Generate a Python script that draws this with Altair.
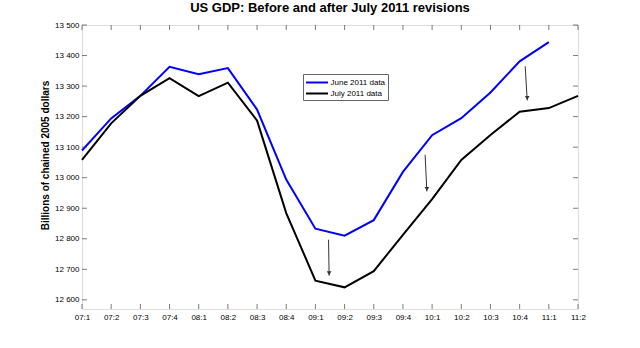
import altair as alt
import pandas as pd

quarters = ["07:1", "07:2", "07:3", "07:4", "08:1", "08:2", "08:3", "08:4",
            "09:1", "09:2", "09:3", "09:4", "10:1", "10:2", "10:3", "10:4",
            "11:1", "11:2"]
june = [13089, 13194, 13268, 13363, 13339, 13359, 13223, 12994, 12833,
        12810, 12861, 13019, 13139, 13195, 13279, 13381, 13444, None]
july = [13058, 13178, 13268, 13326, 13267, 13311, 13187, 12884, 12663,
        12641, 12694, 12813, 12930, 13058, 13140, 13216, 13228, 13268]
series_names = ["June 2011 data", "July 2011 data"]
series_colors = ["#0000ff", "#000000"]
y_ticks = [12600, 12700, 12800, 12900, 13000, 13100, 13200, 13300, 13400, 13500]
y_domain = [12570, 13500]
# arrows: x position (quarter index), start and end value
arrow_x = [8.45, 11.76, 15.19]
arrow_x_end = [8.47, 11.82, 15.26]
arrow_y_start = [12797, 13075, 13365]
arrow_y_end = [12679, 12955, 13253]

FONT = "Liberation Sans"
W, H = 496, 284

rows = []
for i, q in enumerate(quarters):
    if june[i] is not None:
        rows.append({"idx": i, "value": june[i], "series": series_names[0]})
    if july[i] is not None:
        rows.append({"idx": i, "value": july[i], "series": series_names[1]})
df = pd.DataFrame(rows)

label_expr = "[" + ",".join("'%s'" % q for q in quarters) + "][datum.value]"

xscale = alt.Scale(domain=[0, len(quarters) - 1], nice=False, zero=False)
yscale = alt.Scale(domain=y_domain, nice=False, zero=False)

xaxis = alt.Axis(values=list(range(len(quarters))), labelExpr=label_expr,
                 title=None, ticks=False, domain=False, grid=False,
                 labelFont=FONT, labelFontSize=8, labelColor="#000",
                 labelPadding=4, labelFlush=False, labelOverlap=False)
yaxis = alt.Axis(values=y_ticks,
                 labelExpr="replace(format(datum.value, ','), ',', ' ')",
                 title="Billions of chained 2005 dollars",
                 titleFont=FONT, titleFontSize=10, titleFontWeight="bold",
                 titleColor="#000", titlePadding=4, titleY=130,
                 ticks=False, domain=False, grid=False,
                 labelFont=FONT, labelFontSize=8, labelColor="#000",
                 labelPadding=3, labelOverlap=False, labelFlush=False)

lines = alt.Chart(df).mark_line(strokeWidth=2).encode(
    x=alt.X("idx:Q", scale=xscale, axis=xaxis),
    y=alt.Y("value:Q", scale=yscale, axis=yaxis),
    color=alt.Color("series:N",
                    scale=alt.Scale(domain=series_names, range=series_colors),
                    legend=alt.Legend(orient="none", legendX=221, legendY=49,
                                      title=None, symbolType="M-2,0L2,0",
                                      symbolSize=121, symbolStrokeWidth=2,
                                      symbolOffset=5.5,
                                      labelFont=FONT, labelFontSize=8,
                                      labelColor="#000", strokeColor="#666",
                                      fillColor="white", padding=2,
                                      rowPadding=0, labelOffset=7)),
)

xt = pd.DataFrame({"idx": list(range(len(quarters)))})
yt = pd.DataFrame({"value": y_ticks})
tick_color = "#444"

bottom_ticks = alt.Chart(xt).mark_tick(orient="vertical", size=5, thickness=1,
                                       color=tick_color, yOffset=-2.5).encode(
    x=alt.X("idx:Q", scale=xscale, axis=xaxis),
    y=alt.datum(y_domain[0], scale=yscale, axis=yaxis))
top_ticks = alt.Chart(xt).mark_tick(orient="vertical", size=5, thickness=1,
                                    color=tick_color, yOffset=2.5).encode(
    x=alt.X("idx:Q", scale=xscale, axis=xaxis),
    y=alt.datum(y_domain[1], scale=yscale, axis=yaxis))
left_ticks = alt.Chart(yt).mark_tick(orient="horizontal", size=5, thickness=1,
                                     color=tick_color, xOffset=2.5).encode(
    y=alt.Y("value:Q", scale=yscale, axis=yaxis),
    x=alt.datum(0, scale=xscale, axis=xaxis))
right_ticks = alt.Chart(yt).mark_tick(orient="horizontal", size=5, thickness=1,
                                      color=tick_color, xOffset=-2.5).encode(
    y=alt.Y("value:Q", scale=yscale, axis=yaxis),
    x=alt.datum(len(quarters) - 1, scale=xscale, axis=xaxis))

adf = pd.DataFrame({"x": arrow_x, "x2": arrow_x_end,
                    "y": arrow_y_start, "y2": arrow_y_end})
shafts = alt.Chart(adf).mark_rule(color="#333", strokeWidth=1).encode(
    x=alt.X("x:Q", scale=xscale, axis=xaxis), x2="x2:Q",
    y=alt.Y("y:Q", scale=yscale, axis=yaxis), y2="y2:Q")
heads = alt.Chart(adf).mark_point(shape="triangle-down", filled=True, size=22,
                                  color="#333", opacity=1, yOffset=-2.5).encode(
    x=alt.X("x2:Q", scale=xscale, axis=xaxis),
    y=alt.Y("y2:Q", scale=yscale, axis=yaxis))

chart = alt.layer(lines, bottom_ticks, top_ticks, left_ticks, right_ticks,
                  shafts, heads).properties(
    width=W, height=H,
    title=alt.TitleParams("US GDP: Before and after July 2011 revisions",
                          font=FONT, fontSize=13, fontWeight="bold",
                          color="#000", anchor="middle", offset=6),
    autosize=alt.AutoSizeParams(type="none"),
    padding={"left": 82, "top": 25, "right": 640 - 82 - W, "bottom": 348 - 25 - H},
).configure_view(stroke="#444", strokeWidth=1).configure_axis(
    labelOverlap=False, labelSeparation=0
).configure(background="white")

chart.save("out.html", embed_options={"renderer": "svg", "actions": False})
